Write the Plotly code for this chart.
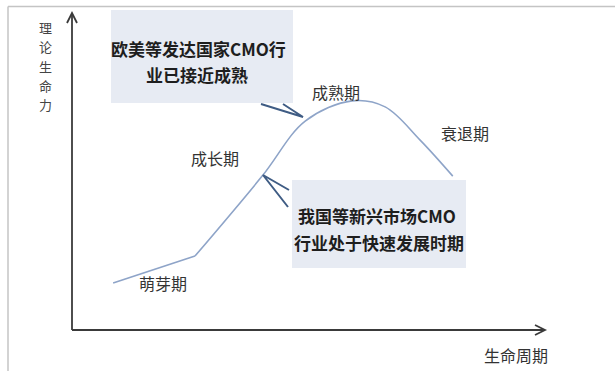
import plotly.graph_objects as go

W, H = 615, 371

# Industry life-cycle curve (time vs. theoretical vitality, arbitrary units)
emerging_t = [8.7, 26.0]
emerging_v = [14.9, 23.4]
cycle_t = [26.0, 40.2, 49.3, 59.2, 66.2, 73.6, 80.5]
cycle_v = [23.4, 48.7, 66.1, 72.5, 70.6, 60.1, 48.7]

stage_labels = ["萌芽期", "成长期", "成熟期", "衰退期"]
y_title = "理论生命力"
x_title = "生命周期"
box1_lines = ["欧美等发达国家CMO行", "业已接近成熟"]
box2_lines = ["我国等新兴市场CMO", "行业处于快速发展时期"]

# axis origin / scale in pixels
X0, XS = 72, 4.73
Y0, YS = 330, 3.16

def px(x):
    return x / W

def py(y):
    return 1 - y / H

CURVE = "#8ea4c8"
POINTER = "#3f5c84"
AXIS = "#3a3a3a"
BOX = "#e7ebf3"
FONT = "Noto Sans CJK SC"

fig = go.Figure()
fig.add_trace(go.Scatter(x=emerging_t, y=emerging_v, mode="lines",
                         line=dict(color=CURVE, width=1.6), hoverinfo="skip"))
fig.add_trace(go.Scatter(x=cycle_t, y=cycle_v, mode="lines",
                         line=dict(color=CURVE, width=1.6, shape="spline", smoothing=1.0),
                         hoverinfo="skip"))

shapes = []
# outer frame
shapes.append(dict(type="line", xref="paper", yref="paper", x0=px(8), x1=px(615), y0=py(6.5), y1=py(6.5),
                   line=dict(color="#c4c4c4", width=1.5)))
shapes.append(dict(type="line", xref="paper", yref="paper", x0=px(8), x1=px(8), y0=py(6.5), y1=py(371),
                   line=dict(color="#c4c4c4", width=1.5)))
# callout boxes
shapes.append(dict(type="rect", xref="paper", yref="paper", x0=px(111), x1=px(293), y0=py(10), y1=py(103),
                   fillcolor=BOX, line=dict(width=0), layer="below"))
shapes.append(dict(type="rect", xref="paper", yref="paper", x0=px(292), x1=px(466), y0=py(180), y1=py(268),
                   fillcolor=BOX, line=dict(width=0), layer="below"))


def path(points):
    s = ""
    for i, (x, y) in enumerate(points):
        s += ("M" if i == 0 else "L") + f" {px(x)} {py(y)} "
    return s

# axes with open arrowheads
shapes.append(dict(type="path", xref="paper", yref="paper", path=path([(72, 330), (72, 14)]),
                   line=dict(color=AXIS, width=1.8)))
shapes.append(dict(type="path", xref="paper", yref="paper", path=path([(67, 23), (72, 13), (77, 23)]),
                   line=dict(color=AXIS, width=1.8)))
shapes.append(dict(type="path", xref="paper", yref="paper", path=path([(72, 330), (544, 330)]),
                   line=dict(color=AXIS, width=1.8)))
shapes.append(dict(type="path", xref="paper", yref="paper", path=path([(535, 325), (545, 330), (535, 335)]),
                   line=dict(color=AXIS, width=1.8)))
# callout pointers
shapes.append(dict(type="path", xref="paper", yref="paper", path=path([(261, 104), (303, 117), (283, 104)]),
                   line=dict(color=POINTER, width=2)))
shapes.append(dict(type="path", xref="paper", yref="paper", path=path([(289, 190), (263, 175), (288, 207)]),
                   line=dict(color=POINTER, width=2)))

ann = []

def label(x, y, text, size=16, color="#333333"):
    ann.append(dict(xref="paper", yref="paper", x=px(x), y=py(y), text=text, showarrow=False,
                    xanchor="center", yanchor="middle", borderpad=0,
                    font=dict(family=FONT, size=size, color=color)))

label(163, 283, stage_labels[0])
label(215, 158, stage_labels[1])
label(336, 92, stage_labels[2])
label(465, 133, stage_labels[3])
# vertical axis title, one character per row
for i, ch in enumerate(y_title):
    label(45, 28 + 19 * i, ch, size=13, color="#444444")
label(516, 355, x_title, size=16)
label(198, 48, "<b>" + box1_lines[0] + "</b>", size=17, color="#1e1e1e")
label(197, 74, "<b>" + box1_lines[1] + "</b>", size=17, color="#1e1e1e")
label(377, 215, "<b>" + box2_lines[0] + "</b>", size=17, color="#1e1e1e")
label(379, 242, "<b>" + box2_lines[1] + "</b>", size=17, color="#1e1e1e")

fig.update_layout(
    width=W, height=H, margin=dict(l=0, r=0, t=0, b=0),
    paper_bgcolor="white", plot_bgcolor="white", showlegend=False,
    xaxis=dict(range=[-X0 / XS, (W - X0) / XS], visible=False, fixedrange=True),
    yaxis=dict(range=[-(H - Y0) / YS, Y0 / YS], visible=False, fixedrange=True),
    shapes=shapes, annotations=ann,
)

fig.write_html("out.html")
